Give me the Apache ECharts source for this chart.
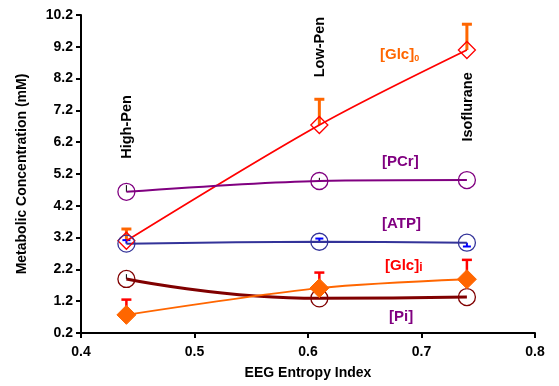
<!DOCTYPE html>
<html>
<head>
<meta charset="utf-8">
<script src="https://cdn.jsdelivr.net/npm/echarts@6/dist/echarts.min.js"></script>
<style>html,body{margin:0;padding:0;background:#fff;}#c{width:559px;height:386px;}</style>
</head>
<body>
<div id="c"></div>
<script>
const entropy = [0.44, 0.61, 0.74];
const glcO = [3.10, 6.74, 9.10];
const glcOErrTop = [3.47, 7.55, 9.91];
const pcr = [4.64, 4.98, 5.01];
const pcrErrTop = [4.85, 5.08, 5.01];
const atp = [3.01, 3.07, 3.04];
const atpErrTop = [3.12, 3.17, 2.92];
const glcI = [0.77, 1.61, 1.89];
const glcIErrTop = [1.25, 2.10, 2.50];
const pi = [1.90, 1.29, 1.33];
const piErrTop = [2.05, 1.29, 1.33];
const yTicks = [0.2, 1.2, 2.2, 3.2, 4.2, 5.2, 6.2, 7.2, 8.2, 9.2, 10.2];
const xTicks = [0.4, 0.5, 0.6, 0.7, 0.8];
const stateLabels = ['High-Pen', 'Low-Pen', 'Isoflurane'];
const stateLabelY = [6.68, 9.19, 7.31];

const FONT = '"Liberation Sans", Arial, sans-serif';

function pts(v) { return entropy.map((x, i) => [x, v[i]]); }
function errData(v, t) { return entropy.map((x, i) => [x, v[i], t[i]]); }

function errSeries(v, t, color, width, cap) {
  return {
    type: 'custom', z: 2,
    data: errData(v, t),
    encode: { x: 0, y: [1, 2] },
    renderItem: function (params, api) {
      const p0 = api.coord([api.value(0), api.value(1)]);
      const p1 = api.coord([api.value(0), api.value(2)]);
      const children = [{
        type: 'line', shape: { x1: p0[0], y1: p0[1], x2: p1[0], y2: p1[1] },
        style: { stroke: color, lineWidth: width }
      }];
      if (cap > 0 && Math.abs(p1[1] - p0[1]) > 2) {
        children.push({
          type: 'line', shape: { x1: p1[0] - cap, y1: p1[1], x2: p1[0] + cap, y2: p1[1] },
          style: { stroke: color, lineWidth: width }
        });
      }
      return { type: 'group', children: children };
    }
  };
}

function lineSeries(v, color, width, symbol, size, filled, smooth) {
  return {
    type: 'line', data: pts(v), smooth: smooth,
    symbol: symbol, symbolSize: size, showAllSymbol: true,
    lineStyle: { color: color, width: width },
    itemStyle: filled ? { color: color, borderColor: color, borderWidth: 1 } : { color: 'rgba(255,255,255,0)', borderColor: color, borderWidth: 1.3 },
    z: 3, animation: false
  };
}

const chart = echarts.init(document.getElementById('c'));
chart.setOption({
  animation: false,
  grid: { left: 81, right: 24, top: 15, bottom: 53 },
  xAxis: {
    type: 'value', min: xTicks[0], max: xTicks[xTicks.length - 1], interval: 0.1,
    name: 'EEG Entropy Index', nameLocation: 'middle', nameGap: 33,
    nameTextStyle: { fontFamily: FONT, fontWeight: 'bold', fontSize: 14, color: '#000' },
    axisLine: { lineStyle: { color: '#000', width: 2 } },
    axisTick: { show: true, length: 5, lineStyle: { color: '#000', width: 2 } },
    axisLabel: { fontFamily: FONT, fontWeight: 'bold', fontSize: 14, color: '#000', margin: 12,
      formatter: v => v.toFixed(1) },
    splitLine: { show: false }
  },
  yAxis: {
    type: 'value', min: yTicks[0], max: yTicks[yTicks.length - 1], interval: 1,
    name: 'Metabolic Concentration (mM)', nameLocation: 'middle', nameGap: 52,
    nameTextStyle: { fontFamily: FONT, fontWeight: 'bold', fontSize: 14, color: '#000' },
    axisLine: { show: true, lineStyle: { color: '#000', width: 2 } },
    axisTick: { show: true, length: 5, lineStyle: { color: '#000', width: 2 } },
    axisLabel: { fontFamily: FONT, fontWeight: 'bold', fontSize: 14, color: '#000', margin: 8,
      formatter: v => v.toFixed(1) },
    splitLine: { show: false }
  },
  series: [
    errSeries(glcO, glcOErrTop, '#FF6600', 3, 5),
    errSeries(glcI, glcIErrTop, '#FF0000', 2.5, 5),
    errSeries(atp, atpErrTop, '#0000FF', 2, 4),
    errSeries(pcr, pcrErrTop, '#000000', 1, 0),
    errSeries(pi, piErrTop, '#000000', 1, 0),
    lineSeries(glcO, '#FF0000', 1.8, 'diamond', 17, false, 0.3),
    lineSeries(pcr, '#800080', 2, 'circle', 17, false, 0.3),
    lineSeries(atp, '#333399', 2, 'circle', 17, false, 0.3),
    lineSeries(pi, '#800000', 3, 'circle', 17, false, 0.5),
    lineSeries(glcI, '#FF6600', 1.8, 'diamond', 19, true, 0.3)
  ]
});

const graphics = [
  { type: 'text', left: 380, top: 47, z: 10, style: { rich: {
      a: { fontFamily: FONT, fontWeight: 'bold', fontSize: 15, fill: '#FF6600' },
      b: { fontFamily: FONT, fontWeight: 'bold', fontSize: 9, fill: '#FF6600', padding: [8, 0, 0, 0] } },
      text: '{a|[Glc]}{b|0}' } },
  { type: 'text', left: 382, top: 154, z: 10, style: { text: '[PCr]', fontFamily: FONT, fontWeight: 'bold', fontSize: 15, fill: '#800080' } },
  { type: 'text', left: 382, top: 216, z: 10, style: { text: '[ATP]', fontFamily: FONT, fontWeight: 'bold', fontSize: 15, fill: '#800080' } },
  { type: 'text', left: 385, top: 258, z: 10, style: { rich: {
      a: { fontFamily: FONT, fontWeight: 'bold', fontSize: 15, fill: '#FF0000' },
      b: { fontFamily: FONT, fontWeight: 'bold', fontSize: 12, fill: '#FF0000', padding: [4, 0, 0, 0] } },
      text: '{a|[Glc]}{b|i}' } },
  { type: 'text', left: 389, top: 309, z: 10, style: { text: '[Pi]', fontFamily: FONT, fontWeight: 'bold', fontSize: 15, fill: '#800080' } }
];
entropy.forEach((x, i) => {
  const p = chart.convertToPixel({ gridIndex: 0 }, [x, stateLabelY[i]]);
  graphics.push({
    type: 'text', x: p[0] + 1, y: p[1], rotation: Math.PI / 2, z: 10,
    style: { text: stateLabels[i], fontFamily: FONT, fontWeight: 'bold', fontSize: 14.5,
      fill: '#000', align: 'center', verticalAlign: 'middle' }
  });
});
chart.setOption({ graphic: graphics });
</script>
</body>
</html>
